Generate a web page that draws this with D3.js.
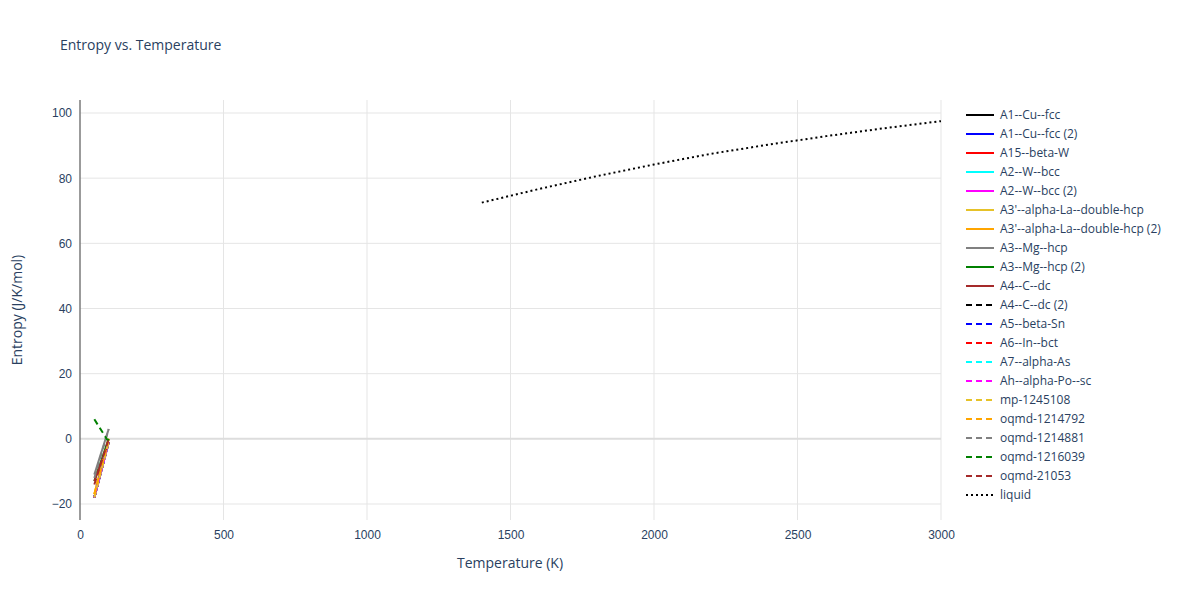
<!DOCTYPE html><html><head><meta charset="utf-8"><script src="https://cdn.jsdelivr.net/npm/d3@7"></script>
<style>body{margin:0;background:#fff;font-family:"Open Sans",sans-serif}</style></head><body><svg id="c" width="1200" height="600"></svg><script>
const names=["A1--Cu--fcc","A1--Cu--fcc (2)","A15--beta-W","A2--W--bcc","A2--W--bcc (2)","A3'--alpha-La--double-hcp","A3'--alpha-La--double-hcp (2)","A3--Mg--hcp","A3--Mg--hcp (2)","A4--C--dc","A4--C--dc (2)","A5--beta-Sn","A6--In--bct","A7--alpha-As","Ah--alpha-Po--sc","mp-1245108","oqmd-1214792","oqmd-1214881","oqmd-1216039","oqmd-21053","liquid"];
const colors=["#000","#00f","#f00","#0ff","#f0f","#e6c229","#ffa500","#808080","#008000","#a52a2a","#000","#00f","#f00","#0ff","#f0f","#e6c229","#ffa500","#808080","#008000","#a52a2a","#000"];
const dashes=names.map((n,i)=>i<10?null:(i<20?"6,4":"2,3"));
const solidT=[50,100];
const seriesY=[[-18,-1],[-18,-1],[-18,-1],[-18,-1],[-18,-1],[-17,0],[-17,0],[-11,3],[-13,0],[-13,-1],[-18,-1],[-18,-1],[-18,-1],[-18,-1],[-18,-1],[-18,-1],[-17,0],[-12,3],[6,-1],[-14,0]];
const liqT=[1400,1600,1800,2000,2200,2400,2600,2800,3000];
const liqS=[72.5,76.7,80.6,84.2,87.5,90.3,92.9,95.3,97.5];
const tc="#2a3f5f";
const svg=d3.select("#c");
const x=d3.scaleLinear([0,3000],[80,941]),y=d3.scaleLinear([-20,100],[504,113]);
svg.append("text").attr("x",60).attr("y",50).text("Entropy vs. Temperature").attr("font-size",14).attr("fill",tc);
[0,500,1000,1500,2000,2500,3000].forEach(v=>svg.append("line").attr("x1",x(v)).attr("x2",x(v)).attr("y1",100).attr("y2",520).attr("stroke","#e5e5e5"));
[-20,20,40,60,80,100].forEach(v=>svg.append("line").attr("x1",80).attr("x2",941).attr("y1",y(v)).attr("y2",y(v)).attr("stroke","#e5e5e5"));
const gx=svg.append("g").attr("transform","translate(0,520)").call(d3.axisBottom(x).tickValues([0,500,1000,1500,2000,2500,3000]).tickFormat(d3.format("d")).tickSize(0).tickPadding(10));
const gy=svg.append("g").attr("transform","translate(80,0)").call(d3.axisLeft(y).tickValues([-20,0,20,40,60,80,100]).tickFormat(d=>d<0?"\u2212"+(-d):d).tickSize(0).tickPadding(8));
[gx,gy].forEach(g=>{g.select(".domain").remove();g.selectAll("text").attr("font-size",12).attr("fill",tc);});
svg.append("line").attr("x1",80).attr("x2",941).attr("y1",y(0)).attr("y2",y(0)).attr("stroke","#ddd").attr("stroke-width",2);
svg.append("line").attr("x1",80).attr("x2",80).attr("y1",100).attr("y2",520).attr("stroke","#444");
svg.append("text").attr("x",510).attr("y",568).attr("text-anchor","middle").attr("font-size",14).attr("fill",tc).text("Temperature (K)");
svg.append("text").attr("transform","translate(22,310) rotate(-90)").attr("text-anchor","middle").attr("font-size",14).attr("fill",tc).text("Entropy (J/K/mol)");
const line=d3.line().x(d=>x(d[0])).y(d=>y(d[1]));
seriesY.forEach((s,i)=>svg.append("path").attr("d",line(solidT.map((t,j)=>[t,s[j]]))).attr("fill","none").attr("stroke",colors[i]).attr("stroke-width",2).attr("stroke-dasharray",dashes[i]));
svg.append("path").attr("d",line(liqT.map((t,j)=>[t,liqS[j]]))).attr("fill","none").attr("stroke","#000").attr("stroke-width",2).attr("stroke-dasharray","2,3");
names.forEach((n,i)=>{const yy=115+i*19;
svg.append("line").attr("x1",966).attr("x2",994).attr("y1",yy).attr("y2",yy).attr("stroke",colors[i]).attr("stroke-width",2).attr("stroke-dasharray",dashes[i]);
svg.append("text").attr("x",1000).attr("y",yy+4).attr("font-size",12).attr("fill",tc).text(n);});
</script></body></html>
